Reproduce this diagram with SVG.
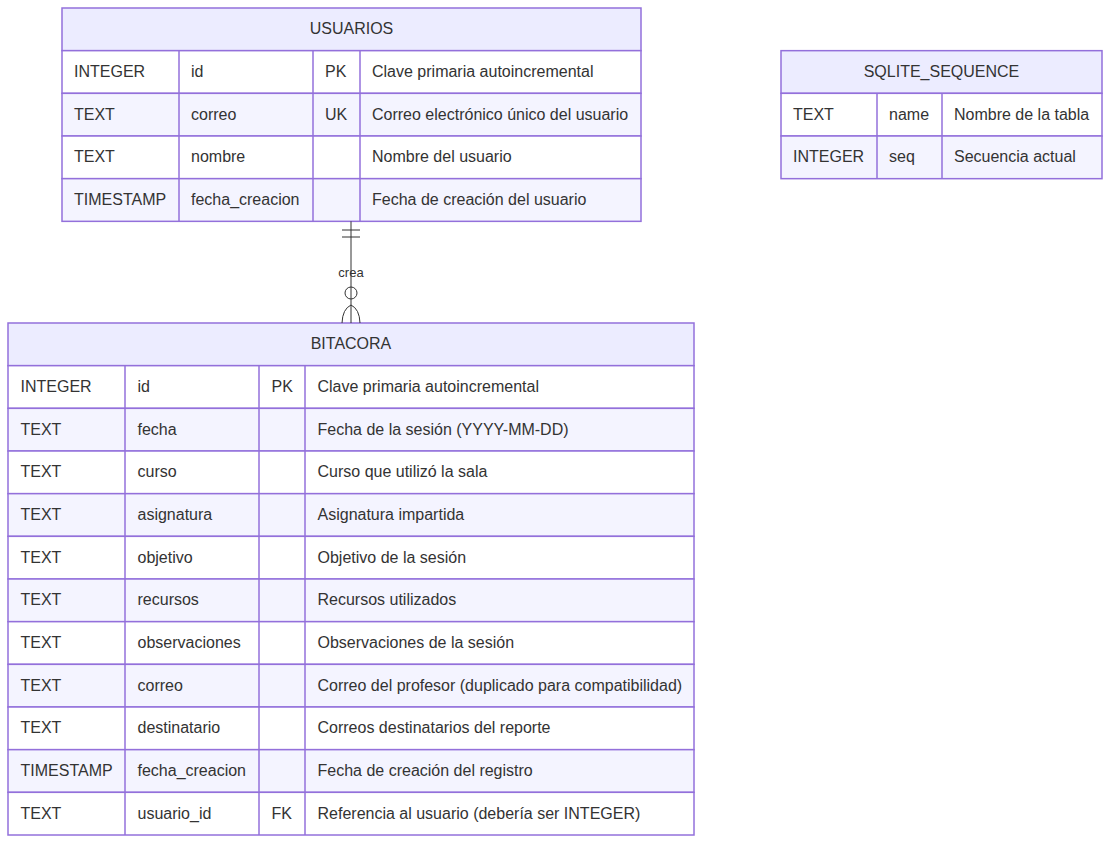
<svg xmlns="http://www.w3.org/2000/svg" width="1110" height="844" viewBox="0 0 1110 844">
<style>
text{font-family:"Liberation Sans",Arial,sans-serif;font-size:16px;fill:#333}
.hd{fill:#ececff;stroke:#9370db;stroke-width:1.5}
.ro{fill:#ffffff;stroke:#9370db;stroke-width:1.5}
.re{fill:#f4f4ff;stroke:#9370db;stroke-width:1.5}
.dv{stroke:#9370db;stroke-width:1.5}
.t{text-anchor:middle}
.rel{stroke:#333;stroke-width:1;fill:none}
.lbl{font-size:13px;text-anchor:middle}
</style>
<rect width="1110" height="844" fill="#ffffff"/>
<g id="USUARIOS">
<rect class="hd" x="62" y="8" width="579" height="42.67"/>
<text class="t" x="351.5" y="33.5">USUARIOS</text>
<rect class="ro" x="62" y="50.67" width="579" height="42.67"/>
<rect class="re" x="62" y="93.33" width="579" height="42.67"/>
<rect class="ro" x="62" y="136" width="579" height="42.67"/>
<rect class="re" x="62" y="178.67" width="579" height="42.67"/>
<line class="dv" x1="179" y1="50.67" x2="179" y2="221.33"/>
<line class="dv" x1="313" y1="50.67" x2="313" y2="221.33"/>
<line class="dv" x1="360" y1="50.67" x2="360" y2="221.33"/>
<text x="74" y="77">INTEGER</text><text x="191" y="77">id</text><text x="325" y="77">PK</text><text x="372" y="77">Clave primaria autoincremental</text>
<text x="74" y="119.6">TEXT</text><text x="191" y="119.6">correo</text><text x="325" y="119.6">UK</text><text x="372" y="119.6">Correo electrónico único del usuario</text>
<text x="74" y="162.3">TEXT</text><text x="191" y="162.3">nombre</text><text x="372" y="162.3">Nombre del usuario</text>
<text x="74" y="205">TIMESTAMP</text><text x="191" y="205">fecha_creacion</text><text x="372" y="205">Fecha de creación del usuario</text>
</g>
<g id="SQLITE_SEQUENCE">
<rect class="hd" x="781" y="50.67" width="321" height="42.67"/>
<text class="t" x="941.5" y="76.5">SQLITE_SEQUENCE</text>
<rect class="ro" x="781" y="93.33" width="321" height="42.67"/>
<rect class="re" x="781" y="136" width="321" height="42.67"/>
<line class="dv" x1="877" y1="93.33" x2="877" y2="178.67"/>
<line class="dv" x1="942" y1="93.33" x2="942" y2="178.67"/>
<text x="793" y="119.6">TEXT</text><text x="889" y="119.6">name</text><text x="954" y="119.6">Nombre de la tabla</text>
<text x="793" y="162.3">INTEGER</text><text x="889" y="162.3">seq</text><text x="954" y="162.3">Secuencia actual</text>
</g>
<g id="BITACORA">
<rect class="hd" x="8" y="323" width="686" height="42.67"/>
<text class="t" x="351" y="348.5">BITACORA</text>
<rect class="ro" x="8" y="365.67" width="686" height="42.67"/>
<rect class="re" x="8" y="408.33" width="686" height="42.67"/>
<rect class="ro" x="8" y="451" width="686" height="42.67"/>
<rect class="re" x="8" y="493.67" width="686" height="42.67"/>
<rect class="ro" x="8" y="536.33" width="686" height="42.67"/>
<rect class="re" x="8" y="579" width="686" height="42.67"/>
<rect class="ro" x="8" y="621.67" width="686" height="42.67"/>
<rect class="re" x="8" y="664.33" width="686" height="42.67"/>
<rect class="ro" x="8" y="707" width="686" height="42.67"/>
<rect class="re" x="8" y="749.67" width="686" height="42.67"/>
<rect class="ro" x="8" y="792.33" width="686" height="42.67"/>
<line class="dv" x1="125" y1="365.67" x2="125" y2="835"/>
<line class="dv" x1="259" y1="365.67" x2="259" y2="835"/>
<line class="dv" x1="305" y1="365.67" x2="305" y2="835"/>
<text x="20.5" y="392">INTEGER</text><text x="137.5" y="392">id</text><text x="271.5" y="392">PK</text><text x="317.5" y="392">Clave primaria autoincremental</text>
<text x="20.5" y="434.6">TEXT</text><text x="137.5" y="434.6">fecha</text><text x="317.5" y="434.6">Fecha de la sesión (YYYY-MM-DD)</text>
<text x="20.5" y="477.3">TEXT</text><text x="137.5" y="477.3">curso</text><text x="317.5" y="477.3">Curso que utilizó la sala</text>
<text x="20.5" y="520">TEXT</text><text x="137.5" y="520">asignatura</text><text x="317.5" y="520">Asignatura impartida</text>
<text x="20.5" y="562.6">TEXT</text><text x="137.5" y="562.6">objetivo</text><text x="317.5" y="562.6">Objetivo de la sesión</text>
<text x="20.5" y="605.3">TEXT</text><text x="137.5" y="605.3">recursos</text><text x="317.5" y="605.3">Recursos utilizados</text>
<text x="20.5" y="648">TEXT</text><text x="137.5" y="648">observaciones</text><text x="317.5" y="648">Observaciones de la sesión</text>
<text x="20.5" y="690.6">TEXT</text><text x="137.5" y="690.6">correo</text><text x="317.5" y="690.6">Correo del profesor (duplicado para compatibilidad)</text>
<text x="20.5" y="733.3">TEXT</text><text x="137.5" y="733.3">destinatario</text><text x="317.5" y="733.3">Correos destinatarios del reporte</text>
<text x="20.5" y="776">TIMESTAMP</text><text x="137.5" y="776">fecha_creacion</text><text x="317.5" y="776">Fecha de creación del registro</text>
<text x="20.5" y="818.6">TEXT</text><text x="137.5" y="818.6">usuario_id</text><text x="271.5" y="818.6">FK</text><text x="317.5" y="818.6">Referencia al usuario (debería ser INTEGER)</text>
</g>
<g id="connectors">
<g id="USUARIOS-BITACORA">
<line class="rel" x1="351" y1="221.33" x2="351" y2="323"/>
<line class="rel" x1="342" y1="230" x2="360" y2="230"/>
<line class="rel" x1="342" y1="237" x2="360" y2="237"/>
<circle class="rel" cx="351" cy="293" r="6" fill="#ffffff"/>
<path class="rel" d="M342,323 Q342.5,309 351,305 Q359.5,309 360,323"/>
<text class="lbl" x="351" y="276.5">crea</text>
</g>
</g>
</svg>
